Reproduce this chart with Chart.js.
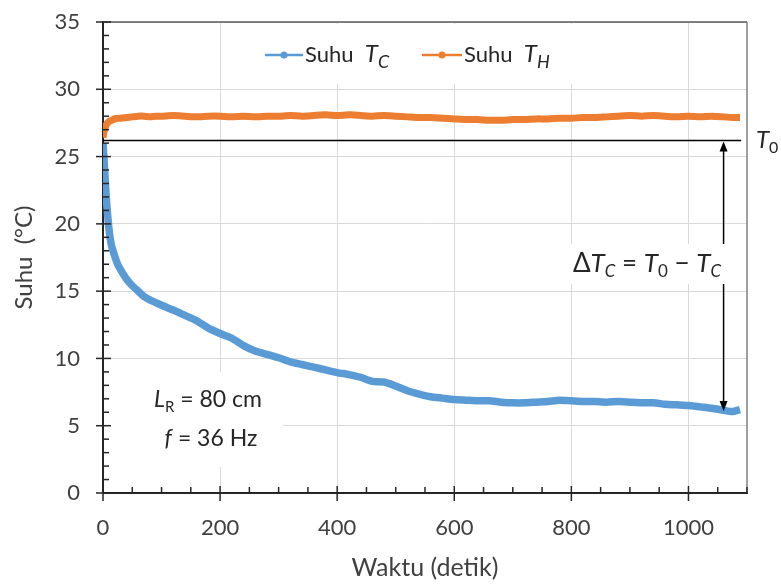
<!DOCTYPE html>
<html>
<head>
<meta charset="utf-8">
<title>Suhu vs Waktu</title>
<script src="https://cdn.jsdelivr.net/npm/chart.js"></script>
<style>
  html, body { margin: 0; padding: 0; background: #fff; }
</style>
</head>
<body>
<canvas id="chartCanvas" width="781" height="584"></canvas>
<script>
// data
var waktu = [0, 2, 4, 6, 8, 10, 12, 15, 20, 25, 30, 40, 50, 60, 70, 80, 90, 100,
  120, 140, 160, 180, 200, 220, 240, 260, 280, 300, 320, 340, 360, 380, 400,
  420, 440, 460, 480, 500, 520, 540, 560, 580, 600, 620, 640, 660, 680, 700,
  720, 740, 760, 780, 800, 820, 840, 860, 880, 900, 920, 940, 960, 980, 1000,
  1020, 1040, 1060, 1075, 1088];
var suhuTC = [26.0, 24.6, 23.1, 21.7, 20.6, 19.7, 19.0, 18.3, 17.6, 17.0, 16.6, 15.9, 15.4, 15.0, 14.6, 14.35, 14.15, 13.95,
  13.6, 13.2, 12.8, 12.25, 11.85, 11.5, 10.95, 10.55, 10.3, 10.05, 9.75, 9.55, 9.35, 9.15, 8.95,
  8.8, 8.6, 8.3, 8.25, 7.95, 7.6, 7.35, 7.15, 7.05, 6.95, 6.9, 6.85, 6.85, 6.75, 6.7,
  6.7, 6.75, 6.8, 6.9, 6.85, 6.8, 6.8, 6.75, 6.8, 6.75, 6.7, 6.7, 6.6, 6.55, 6.5,
  6.4, 6.3, 6.15, 6.05, 6.2];
var suhuTH = [26.4, 26.9, 27.2, 27.4, 27.5, 27.6, 27.65, 27.7, 27.8, 27.85, 27.85, 27.9, 27.95, 28.0, 28.0, 27.95, 28.0, 28.0,
  28.05, 28.0, 27.95, 28.0, 28.0, 27.95, 28.0, 27.95, 28.0, 28.0, 28.05, 28.0, 28.05, 28.1, 28.05,
  28.1, 28.05, 28.0, 28.05, 28.0, 27.95, 27.9, 27.9, 27.85, 27.8, 27.75, 27.75, 27.7, 27.7, 27.75,
  27.75, 27.8, 27.8, 27.85, 27.85, 27.9, 27.9, 27.95, 28.0, 28.05, 28.0, 28.05, 28.0, 27.95, 28.0,
  27.95, 28.0, 27.95, 27.9, 27.9];
var tickWaktu = [0, 200, 400, 600, 800, 1000];
var tickSuhu = [0, 5, 10, 15, 20, 25, 30, 35];
var suhuT0 = 26.2;
var panahWaktu = 1060;
var panahBawah = 6.1;
var ujungGarisT0 = 1090;

var huruf = 'Lato, "Open Sans", sans-serif';
var biru = '#5b9bd5';
var oranye = '#ed7d31';
var abuTeks = '#404040';

function teksKaya(ctx, bagian, x, y, rata) {
  // bagian: [teks, gaya, ukuran, geser y]
  var total = 0;
  bagian.forEach(function (b) {
    ctx.font = b[1] + ' ' + b[2] + 'px ' + huruf;
    total += ctx.measureText(b[0]).width;
  });
  var cx = rata === 'center' ? x - total / 2 : (rata === 'right' ? x - total : x);
  ctx.textAlign = 'left';
  ctx.textBaseline = 'alphabetic';
  bagian.forEach(function (b) {
    ctx.font = b[1] + ' ' + b[2] + 'px ' + huruf;
    ctx.fillText(b[0], cx, y + (b[3] || 0));
    cx += ctx.measureText(b[0]).width;
  });
}

var hiasan = {
  id: 'hiasan',
  beforeDatasetsDraw: function (chart) {
    var ctx = chart.ctx;
    ctx.save();
    ctx.fillStyle = '#fff';
    ctx.fillRect(245, 24, 355, 60);   // kotak legenda
    ctx.fillRect(108, 372, 175, 95);  // kotak L_R, f
    ctx.restore();
  },
  afterDatasetsDraw: function (chart) {
    var ctx = chart.ctx;
    var sx = chart.scales.x, sy = chart.scales.y;
    var a = chart.chartArea;
    ctx.save();

    // garis T0
    var yT0 = sy.getPixelForValue(suhuT0);
    ctx.strokeStyle = '#000';
    ctx.lineWidth = 1.5;
    ctx.beginPath();
    ctx.moveTo(sx.getPixelForValue(0), yT0);
    ctx.lineTo(sx.getPixelForValue(ujungGarisT0), yT0);
    ctx.stroke();

    // panah dua arah
    var xp = sx.getPixelForValue(panahWaktu);
    var yb = sy.getPixelForValue(panahBawah);
    ctx.beginPath();
    ctx.moveTo(xp, yT0 + 8);
    ctx.lineTo(xp, yb - 8);
    ctx.stroke();
    ctx.fillStyle = '#000';
    ctx.beginPath();
    ctx.moveTo(xp, yT0 + 1); ctx.lineTo(xp - 4, yT0 + 11); ctx.lineTo(xp + 4, yT0 + 11); ctx.closePath(); ctx.fill();
    ctx.beginPath();
    ctx.moveTo(xp, yb); ctx.lineTo(xp - 4, yb - 10); ctx.lineTo(xp + 4, yb - 10); ctx.closePath(); ctx.fill();

    // teks delta T
    ctx.fillStyle = '#fff';
    ctx.fillRect(564, 244, 166, 40);
    ctx.fillStyle = '#262626';
    teksKaya(ctx, [
      ['\u0394', 'normal', 26], ['T', 'italic', 26], ['C', 'italic', 17, 5],
      [' = ', 'normal', 26], ['T', 'italic', 26], ['0', 'normal', 17, 5],
      [' \u2212 ', 'normal', 26], ['T', 'italic', 26], ['C', 'italic', 17, 5]
    ], 647, 272, 'center');

    // teks L_R dan f
    teksKaya(ctx, [['L', 'italic', 23], ['R', 'normal', 15, 5], [' = 80 cm', 'normal', 23]], 208, 407, 'center');
    teksKaya(ctx, [['f', 'italic', 23], [' = 36 Hz', 'normal', 23]], 211, 446, 'center');

    // label T0 di kanan
    teksKaya(ctx, [['T', 'italic', 24], ['0', 'normal', 16, 5]], 756, 148, 'left');

    // legenda
    ctx.lineWidth = 2.5;
    ctx.strokeStyle = biru;
    ctx.beginPath(); ctx.moveTo(265, 55); ctx.lineTo(303, 55); ctx.stroke();
    ctx.fillStyle = biru;
    ctx.beginPath(); ctx.arc(284, 55, 3.5, 0, Math.PI * 2); ctx.fill();
    ctx.strokeStyle = oranye;
    ctx.beginPath(); ctx.moveTo(422, 55); ctx.lineTo(462, 55); ctx.stroke();
    ctx.fillStyle = oranye;
    ctx.beginPath(); ctx.arc(442, 55, 3.5, 0, Math.PI * 2); ctx.fill();
    ctx.fillStyle = '#262626';
    teksKaya(ctx, [['Suhu  ', 'normal', 22], ['T', 'italic', 24], ['C', 'italic', 18, 6]], 305, 62, 'left');
    teksKaya(ctx, [['Suhu  ', 'normal', 22], ['T', 'italic', 24], ['H', 'italic', 18, 6]], 464, 62, 'left');

    // bingkai atas dan kanan
    ctx.lineWidth = 1.5;
    ctx.strokeStyle = '#595959';
    ctx.beginPath(); ctx.moveTo(a.left, a.top); ctx.lineTo(a.right, a.top); ctx.stroke();
    ctx.strokeStyle = '#7f7f7f';
    ctx.beginPath(); ctx.moveTo(a.right, a.top); ctx.lineTo(a.right, a.bottom); ctx.stroke();

    // tanda tick mayor dan minor
    ctx.strokeStyle = '#262626';
    ctx.lineWidth = 1.5;
    var v, p;
    for (v = 0; v <= 35; v += 1) {
      p = sy.getPixelForValue(v);
      ctx.beginPath();
      if (v % 5 === 0) { ctx.moveTo(a.left - 7, p); ctx.lineTo(a.left + 8, p); }
      else { ctx.moveTo(a.left, p); ctx.lineTo(a.left + 6, p); }
      ctx.stroke();
    }
    for (v = 0; v <= 1100; v += 50) {
      p = sx.getPixelForValue(v);
      ctx.beginPath();
      if (v % 200 === 0) { ctx.moveTo(p, a.bottom - 7); ctx.lineTo(p, a.bottom + 8); }
      else { ctx.moveTo(p, a.bottom); ctx.lineTo(p, a.bottom - 6); }
      ctx.stroke();
    }
    ctx.restore();
  }
};

var ctx = document.getElementById('chartCanvas').getContext('2d');
var chart = new Chart(ctx, {
  type: 'line',
  data: {
    datasets: [{
      label: 'Suhu TC',
      data: waktu.map(function (t, i) { return { x: t, y: suhuTC[i] }; }),
      borderColor: biru,
      backgroundColor: biru,
      borderWidth: 7.5,
      pointRadius: 0,
      tension: 0.2
    }, {
      label: 'Suhu TH',
      data: waktu.map(function (t, i) { return { x: t, y: suhuTH[i] }; }),
      borderColor: oranye,
      backgroundColor: oranye,
      borderWidth: 7,
      pointRadius: 0,
      tension: 0.2
    }]
  },
  options: {
    responsive: false,
    animation: false,
    devicePixelRatio: 1,
    layout: { padding: { top: 22, right: 34, left: 0, bottom: 0 } },
    plugins: {
      legend: { display: false },
      tooltip: { enabled: false }
    },
    scales: {
      x: {
        type: 'linear',
        min: 0,
        max: 1100,
        afterBuildTicks: function (s) { s.ticks = tickWaktu.map(function (v) { return { value: v }; }); },
        afterFit: function (s) { s.height = 91; s.paddingLeft = 0; s.paddingRight = 0; },
        ticks: {
          font: { family: huruf, size: 22 }, color: abuTeks, padding: 22, maxRotation: 0,
          callback: function (v) { return String(v); }
        },
        grid: { color: '#d9d9d9', drawTicks: false },
        border: { color: '#262626', width: 2 },
        title: {
          display: true,
          text: 'Waktu (detik)',
          color: abuTeks,
          font: { family: huruf, size: 25, lineHeight: 1.2 },
          padding: { top: 0, bottom: 1 }
        }
      },
      y: {
        min: 0,
        max: 35,
        afterBuildTicks: function (s) { s.ticks = tickSuhu.map(function (v) { return { value: v }; }); },
        afterFit: function (s) { s.width = 103; s.paddingTop = 0; s.paddingBottom = 0; },
        ticks: {
          font: { family: huruf, size: 22 }, color: abuTeks, padding: 23,
          callback: function (v) { return String(v); }
        },
        grid: { color: '#d9d9d9', drawTicks: false },
        border: { color: '#262626', width: 2 },
        title: {
          display: true,
          text: 'Suhu  (\u00B0C)',
          color: abuTeks,
          font: { family: huruf, size: 24, lineHeight: 1.2 },
          padding: { top: 10, bottom: 0 }
        }
      }
    }
  },
  plugins: [hiasan]
});
</script>
</body>
</html>
